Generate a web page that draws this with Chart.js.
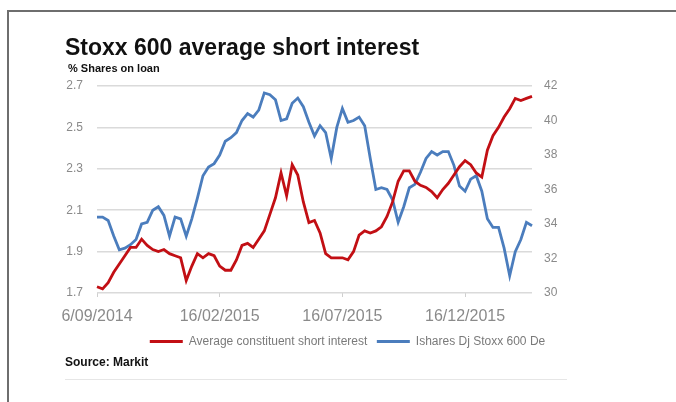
<!DOCTYPE html>
<html>
<head>
<meta charset="utf-8">
<script src="https://cdn.jsdelivr.net/npm/chart.js@4.4.1/dist/chart.umd.min.js"></script>
<style>
    html, body { margin: 0; padding: 0; background: #fff; }
    body { width: 676px; height: 402px; position: relative; overflow: hidden; font-family: "Liberation Sans", Arial, sans-serif; }
    #frame { position: absolute; left: 7px; top: 10px; width: 700px; height: 400px; border-left: 2px solid #6e6e6e; border-top: 2px solid #6e6e6e; }
    #title { position: absolute; left: 65px; top: 34px; font-size: 23px; line-height: 26px; font-weight: bold; color: #111; }
    #subtitle { position: absolute; left: 68px; top: 61px; font-size: 11px; line-height: 14px; font-weight: bold; color: #111; }
    #source { position: absolute; left: 65px; top: 355px; font-size: 12px; line-height: 14px; font-weight: bold; color: #111; }
    #rule { position: absolute; left: 65px; top: 379px; width: 502px; height: 1px; background: #e6e6e6; }
    #chartSI { position: absolute; left: 0; top: 0; }
</style>
</head>
<body>
<div id="frame"></div>
<canvas id="chartSI" width="676" height="402"></canvas>
<div id="title">Stoxx 600 average short interest</div>
<div id="subtitle">% Shares on loan</div>
<div id="source">Source: Markit</div>
<div id="rule"></div>

<script>
const SERIES_NAMES = ['Average constituent short interest', 'Ishares Dj Stoxx 600 De'];
const SERIES_COLORS = ['#c20f14', '#4b7dbd'];

// weekly readings, left axis (% shares on loan)
const shortInterest = [
    1.73, 1.72, 1.75, 1.80, 1.84, 1.88, 1.92, 1.92, 1.96, 1.93,
    1.91, 1.90, 1.91, 1.89, 1.88, 1.87, 1.76, 1.83, 1.89, 1.87,
    1.89, 1.88, 1.83, 1.81, 1.81, 1.86, 1.93, 1.94, 1.92, 1.96,
    2.00, 2.08, 2.16, 2.28, 2.17, 2.32, 2.27, 2.14, 2.04, 2.05,
    1.99, 1.89, 1.87, 1.87, 1.87, 1.86, 1.90, 1.98, 2.00, 1.99,
    2.00, 2.02, 2.07, 2.14, 2.24, 2.29, 2.29, 2.24, 2.22, 2.21,
    2.19, 2.16, 2.20, 2.23, 2.27, 2.31, 2.34, 2.32, 2.28, 2.26,
    2.39, 2.46, 2.50, 2.55, 2.59, 2.64, 2.63, 2.64, 2.65
];

// weekly readings, right axis (ETF price)
const etfPrice = [
    34.4, 34.4, 34.2, 33.3, 32.5, 32.6, 32.8, 33.1, 34.0, 34.1,
    34.8, 35.0, 34.5, 33.3, 34.4, 34.3, 33.3, 34.3, 35.5, 36.8,
    37.3, 37.5, 38.0, 38.8, 39.0, 39.3, 40.0, 40.4, 40.2, 40.6,
    41.6, 41.5, 41.2, 40.0, 40.1, 41.0, 41.3, 40.8, 39.9, 39.1,
    39.7, 39.3, 37.8, 39.6, 40.7, 39.9, 40.0, 40.2, 39.7, 37.8,
    36.0, 36.1, 36.0, 35.4, 34.1, 35.0, 36.1, 36.3, 37.0, 37.8,
    38.2, 38.0, 38.2, 38.2, 37.4, 36.2, 35.9, 36.6, 36.8, 35.9,
    34.3, 33.8, 33.8, 32.6, 31.0, 32.4, 33.1, 34.1, 33.9
];

const tickLabels = ['6/09/2014', '16/02/2015', '16/07/2015', '16/12/2015'];
const tickEvery = 22;

const weeks = shortInterest.map((v, i) => i);

const grey = '#8a8a8a';
const font = 'Liberation Sans';

new Chart(document.getElementById('chartSI'), {
    type: 'line',
    data: {
        labels: weeks,
        datasets: [
            {
                label: SERIES_NAMES[0],
                data: shortInterest,
                yAxisID: 'y',
                borderColor: SERIES_COLORS[0],
                backgroundColor: SERIES_COLORS[0],
                borderWidth: 2.8,
                pointRadius: 0,
                tension: 0
            },
            {
                label: SERIES_NAMES[1],
                data: etfPrice,
                yAxisID: 'y1',
                borderColor: SERIES_COLORS[1],
                backgroundColor: SERIES_COLORS[1],
                borderWidth: 2.8,
                pointRadius: 0,
                tension: 0
            }
        ]
    },
    options: {
        responsive: false,
        animation: false,
        layout: { padding: { left: 40, right: 21, top: 86, bottom: 44.5 } },
        plugins: {
            tooltip: { enabled: false },
            legend: {
                position: 'bottom',
                labels: {
                    usePointStyle: true,
                    pointStyle: 'line',
                    pointStyleWidth: 33,
                    boxHeight: 3,
                    padding: 9.5,
                    color: '#7a7a7a',
                    font: { family: font, size: 12 }
                }
            }
        },
        scales: {
            x: {
                type: 'category',
                offset: false,
                border: { display: false },
                grid: {
                    drawOnChartArea: false,
                    tickLength: 4,
                    color: c => c.index % tickEvery === 0 ? '#cfcfcf' : 'rgba(0,0,0,0)'
                },
                ticks: {
                    autoSkip: false,
                    maxRotation: 0,
                    minRotation: 0,
                    padding: 10,
                    color: grey,
                    font: { family: font, size: 16 },
                    callback: (v, i) => i % tickEvery === 0 ? tickLabels[i / tickEvery] : ''
                },
                afterFit: s => { s.height = 33; }
            },
            y: {
                position: 'left',
                min: 1.7,
                max: 2.7,
                border: { display: false },
                grid: { color: '#dadada', lineWidth: 1.5, drawTicks: false },
                ticks: {
                    stepSize: 0.2,
                    padding: 14,
                    color: grey,
                    font: { family: font, size: 12 },
                    callback: v => v.toFixed(1)
                },
                afterFit: s => { s.width = 57; }
            },
            y1: {
                position: 'right',
                min: 30,
                max: 42,
                border: { display: false },
                grid: { drawOnChartArea: false, drawTicks: false },
                ticks: {
                    stepSize: 2,
                    padding: 12,
                    color: grey,
                    font: { family: font, size: 12 }
                },
                afterFit: s => { s.width = 123; }
            }
        }
    }
});
</script>
</body>
</html>
